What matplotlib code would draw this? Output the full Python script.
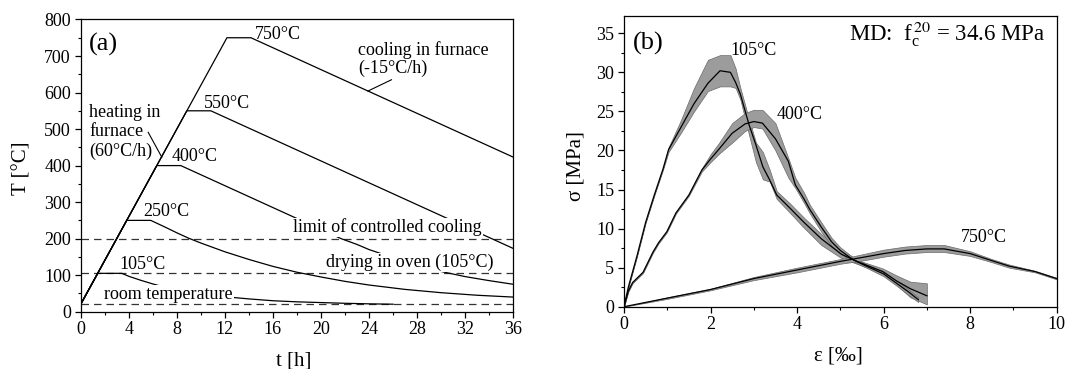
import matplotlib
matplotlib.use("Agg")
import matplotlib.pyplot as plt
from matplotlib.ticker import MultipleLocator

plt.rcParams['font.family'] = ['Liberation Serif', 'DejaVu Serif']
plt.rcParams['mathtext.fontset'] = 'stix'
plt.rcParams['font.size'] = 13

# ---- (a) temperature programmes ----
t_750 = [0, 12.17, 14.17, 36]
T_750 = [20, 750, 750, 423]
t_550 = [0, 8.83, 10.83, 36]
T_550 = [20, 550, 550, 173]
t_400 = [0, 6.33, 8.33, 21.67, 23, 24, 26, 28, 30, 32, 34, 36]
T_400 = [20, 400, 400, 200, 184, 170, 148, 128, 110, 96, 85, 75]
t_250 = [0, 3.83, 5.83, 7, 8, 9, 10, 12, 14, 16, 18, 20, 22, 24, 27, 30, 33, 36]
T_250 = [20, 250, 250, 232, 216, 201, 188, 164, 143, 124, 108, 95, 83, 73, 61, 52, 45, 40]
t_105 = [0, 1.42, 3.42, 4, 5, 6, 7, 8, 10, 12, 14, 16, 18, 20, 22, 24, 26]
T_105 = [20, 105, 105, 97, 86, 76, 67, 60, 49, 41, 35, 30, 27, 25, 23, 21.5, 20.5]
limits_T = [200, 105, 20]

# leader lines of (a)
lead_cool_t = [25.86, 23.9]
lead_cool_T = [635, 604]
lead_heat_t = [5.62, 6.75]
lead_heat_T = [491, 423]

# ---- (b) stress-strain curves (mean and scatter band) ----
e_105 = [0, 0.1, 0.3, 0.5, 0.7, 0.9, 1.03, 1.31, 1.62, 1.94, 2.22, 2.46, 2.58, 2.69,
         2.89, 3.05, 3.21, 3.37, 3.53, 3.84, 4.16, 4.56, 5.03, 5.43, 5.98, 6.30, 6.62, 7.00]
s_105 = [0, 2.5, 6.5, 10.8, 14.3, 17.6, 20.1, 22.9, 26.0, 28.6, 30.2, 30.0, 28.7, 27.2,
         23.3, 20.7, 17.9, 16.2, 14.3, 12.6, 10.8, 8.7, 6.7, 5.7, 4.5, 3.3, 2.3, 1.4]
lo_105 = [0, 2.4, 6.4, 10.7, 14.2, 17.5, 19.8, 22.2, 25.0, 27.6, 28.2, 28.2, 28.0, 26.5,
          22.0, 18.5, 16.3, 16.0, 13.8, 12.0, 10.1, 7.9, 6.2, 5.4, 4.2, 2.8, 1.2, 0.3]
hi_105 = [0, 2.6, 6.6, 10.9, 14.4, 17.7, 20.4, 23.8, 28.0, 31.6, 32.2, 32.2, 30.5, 28.0,
          24.0, 21.0, 19.8, 17.5, 14.8, 13.2, 11.4, 9.3, 7.2, 5.9, 4.9, 4.0, 3.2, 3.0]

e_400 = [0, 0.1, 0.2, 0.44, 0.67, 0.8, 0.99, 1.2, 1.5, 1.8, 2.0, 2.2, 2.5, 2.8, 3.0, 3.2,
         3.5, 3.8, 3.96, 4.16, 4.3, 4.56, 4.8, 5.0, 5.3, 5.6, 6.0, 6.3, 6.6, 6.8]
s_400 = [0, 2.0, 3.1, 4.4, 7.0, 8.2, 9.6, 12.0, 14.3, 17.5, 18.9, 20.2, 22.2, 23.4, 23.7, 23.5,
         21.5, 18.6, 15.6, 13.8, 12.4, 10.2, 8.3, 7.2, 6.0, 5.2, 4.2, 3.0, 1.8, 0.9]
lo_400 = [0, 1.9, 3.0, 4.3, 6.9, 8.1, 9.5, 11.9, 14.2, 17.3, 18.5, 19.6, 21.0, 22.5, 23.0, 22.8,
          20.0, 16.5, 15.2, 13.3, 11.9, 9.6, 7.8, 6.8, 5.8, 5.0, 3.9, 2.7, 1.4, 0.6]
hi_400 = [0, 2.1, 3.2, 4.5, 7.1, 8.3, 9.7, 12.1, 14.4, 17.7, 19.5, 21.0, 23.5, 24.8, 25.2, 25.2,
          23.5, 19.0, 16.5, 14.6, 13.0, 10.8, 8.8, 7.6, 6.3, 5.4, 4.5, 3.3, 2.1, 1.2]

e_750 = [0, 1, 2, 3, 4, 5, 5.5, 6, 6.5, 7, 7.4, 8, 8.5, 8.9, 9.5, 10]
s_750 = [0, 1.1, 2.2, 3.6, 4.7, 5.8, 6.3, 6.8, 7.2, 7.4, 7.4, 6.8, 5.9, 5.2, 4.5, 3.6]
lo_750 = [0, 1.0, 2.1, 3.4, 4.4, 5.5, 5.9, 6.4, 6.8, 7.0, 7.0, 6.5, 5.7, 5.0, 4.4, 3.5]
hi_750 = [0, 1.2, 2.3, 3.8, 5.0, 6.1, 6.7, 7.3, 7.7, 7.9, 7.9, 7.1, 6.1, 5.4, 4.6, 3.7]

fig = plt.figure(figsize=(10.67, 3.69), dpi=100)
ax1 = fig.add_axes([0.0756, 0.1553, 0.4055, 0.7919])
ax2 = fig.add_axes([0.5848, 0.1688, 0.4055, 0.7887])

# ---------- panel (a) ----------
for T in limits_T:
    ax1.axhline(T, color='#333333', lw=0.9, ls=(0, (6, 4)), zorder=1)
for t, T in [(t_750, T_750), (t_550, T_550), (t_400, T_400), (t_250, T_250), (t_105, T_105)]:
    ax1.plot(t, T, color='black', lw=0.9, zorder=2)
ax1.plot(lead_cool_t, lead_cool_T, color='black', lw=0.8)
ax1.plot(lead_heat_t, lead_heat_T, color='black', lw=0.8)

ax1.set_xlim(0, 36)
ax1.set_ylim(0, 800)
ax1.xaxis.set_major_locator(MultipleLocator(4))
ax1.xaxis.set_minor_locator(MultipleLocator(2))
ax1.yaxis.set_major_locator(MultipleLocator(100))
ax1.yaxis.set_minor_locator(MultipleLocator(50))
ax1.set_xlabel('t [h]', fontsize=15)
ax1.set_ylabel('T [°C]', fontsize=15)
ax1.xaxis.set_label_coords(0.493, -0.168)
ax1.yaxis.set_label_coords(-0.136, 0.49)

mask = dict(facecolor='white', edgecolor='none', pad=0.5)
ax1.text(0.7, 731, '(a)', fontsize=19, va='center')
ax1.text(14.47, 760, '750°C', va='center')
ax1.text(23.1, 692, 'cooling in furnace\n(-15°C/h)', va='center', linespacing=1.1)
ax1.text(10.26, 571, '550°C', va='center')
ax1.text(0.7, 492, 'heating in\nfurnace\n(60°C/h)', va='center', linespacing=1.15)
ax1.text(7.59, 425, '400°C', va='center')
ax1.text(5.2, 275, '250°C', va='center')
ax1.text(17.7, 231, 'limit of controlled cooling', va='center', bbox=mask, zorder=4)
ax1.text(20.4, 134, 'drying in oven (105°C)', va='center', bbox=mask, zorder=4)
ax1.text(3.23, 130, '105°C', va='center')
ax1.text(1.97, 48, 'room temperature', va='center', bbox=mask, zorder=4)

# ---------- panel (b) ----------
for e, s, lo, hi in [(e_105, s_105, lo_105, hi_105), (e_400, s_400, lo_400, hi_400),
                     (e_750, s_750, lo_750, hi_750)]:
    ax2.fill_between(e, lo, hi, facecolor='#9c9c9c', edgecolor='#6a6a6a', lw=0.5, zorder=1)
    ax2.plot(e, s, color='black', lw=0.9, zorder=2)

ax2.set_xlim(0, 10)
ax2.set_ylim(0, 37.25)
ax2.xaxis.set_major_locator(MultipleLocator(2))
ax2.xaxis.set_minor_locator(MultipleLocator(1))
ax2.yaxis.set_major_locator(MultipleLocator(5))
ax2.yaxis.set_minor_locator(MultipleLocator(2.5))
ax2.set_xlabel('ε [‰]', fontsize=15)
ax2.set_ylabel('σ [MPa]', fontsize=15)
ax2.xaxis.set_label_coords(0.495, -0.17)
ax2.yaxis.set_label_coords(-0.111, 0.483)

ax2.text(0.2, 33.7, '(b)', fontsize=19, va='center')
ax2.text(9.75, 34.9, r'MD:  f$_\mathregular{c}^{\,20}$ = 34.6 MPa', ha='right', va='center', fontsize=16.5)
ax2.text(2.46, 32.8, '105°C', va='center')
ax2.text(3.53, 24.6, '400°C', va='center')
ax2.text(7.79, 8.9, '750°C', va='center')

for ax in (ax1, ax2):
    ax.xaxis.label.set_verticalalignment('center')
    ax.yaxis.label.set_verticalalignment('center')
    ax.tick_params(which='major', direction='out', length=4, width=0.9, labelsize=13, pad=3)
    ax.tick_params(which='minor', direction='out', length=2.5, width=0.8)
    for sp in ax.spines.values():
        sp.set_linewidth(0.9)

fig.savefig('out.png', dpi=100)
